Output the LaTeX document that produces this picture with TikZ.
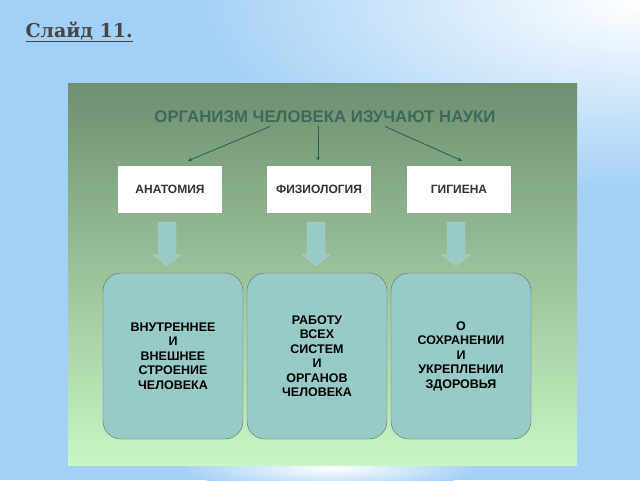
\documentclass[tikz,border=0pt]{standalone}
\usepackage{fontspec}
\setmainfont{Liberation Sans}
\newfontfamily\slidefont{DejaVu Serif}
\usetikzlibrary{calc}
\definecolor{skyblue}{HTML}{A3D0F6}
\definecolor{paneltop}{HTML}{6E8F70}
\definecolor{panelmid}{HTML}{9CC198}
\definecolor{panelbot}{HTML}{C8F6C4}
\definecolor{headcol}{HTML}{3B6A5C}
\definecolor{linecol}{HTML}{2F5A50}
\definecolor{tealbox}{HTML}{98CAC7}
\definecolor{slidegray}{HTML}{454545}
\tikzset{
  science/.style={fill=white, minimum width=104pt, minimum height=47pt, inner sep=0pt, text=black!80, font=\bfseries\fontsize{12}{14}\selectfont},
  topic/.style={draw=gray!80!black, fill=tealbox, rounded corners=18pt, minimum width=140pt, minimum height=166pt, inner sep=0pt, align=center, font=\bfseries\fontsize{12.5}{14.5}\selectfont},
  blockarrow/.style={fill=tealbox, draw=gray!45, line join=miter},
}
\begin{document}
\begin{tikzpicture}[x=1pt,y=1pt,>=stealth]
			% background
			\useasboundingbox (0,0) rectangle (640,-480);
			\fill[skyblue] (0,0) rectangle (640,-480);
			\begin{scope}
			\clip (0,0) rectangle (640,-480);
			\shade[inner color=white, outer color=skyblue] (640,0) ellipse (450 and 190);
			\shade[inner color=white, outer color=skyblue] (330,-468) ellipse (150 and 22);
			\end{scope}
			\node[anchor=base west, text=slidegray, font=\slidefont\bfseries\fontsize{19}{22}\selectfont] (slide) at (22,-37) {\underline{Слайд 11.}};
			% panel
			\shade[top color=paneltop, middle color=panelmid, bottom color=panelbot] (68,-83) rectangle (577,-465);
			\node[text=headcol, font=\bfseries\fontsize{16.8}{19}\selectfont] (title) at (325,-117) {ОРГАНИЗМ ЧЕЛОВЕКА ИЗУЧАЮТ НАУКИ};
			% sciences
			\node[science] (anat) at (170,-189.5) {АНАТОМИЯ};
			\node[science] (phys) at (319,-189.5) {ФИЗИОЛОГИЯ};
			\node[science] (hyg) at (459,-189.5) {ГИГИЕНА};
			\draw[->,linecol,thick] ($(title.south)+(-55,0)$) -- ($(anat.north)+(18,5)$);
			\draw[->,linecol,thick] ($(title.south)+(-7,0)$) -- ($(phys.north)+(-1,5)$);
			\draw[->,linecol,thick] ($(title.south)+(60,0)$) -- ($(hyg.north)+(3,5)$);
			% topics
			\node[topic] (inner) at (173,-356) {ВНУТРЕННЕЕ\\И\\ВНЕШНЕЕ\\СТРОЕНИЕ\\ЧЕЛОВЕКА};
			\node[topic] (work) at (317,-356) {РАБОТУ\\ВСЕХ\\СИСТЕМ\\И\\ОРГАНОВ\\ЧЕЛОВЕКА};
			\node[topic] (health) at (461,-356) {О\\СОХРАНЕНИИ\\И\\УКРЕПЛЕНИИ\\ЗДОРОВЬЯ};
			\foreach \a/\b in {anat/inner,phys/work,hyg/health}
			\draw[blockarrow] let \p1=($(\a.south)+(-3,-9)$), \p2=($(\b.north)+(0,7)$) in
				(\x1-9pt,\y1) -- (\x1+9pt,\y1) -- (\x1+9pt,\y2+11pt) -- (\x1+14pt,\y2+11pt)
				-- (\x1,\y2) -- (\x1-14pt,\y2+11pt) -- (\x1-9pt,\y2+11pt) -- cycle;
		\end{tikzpicture}
\end{document}
